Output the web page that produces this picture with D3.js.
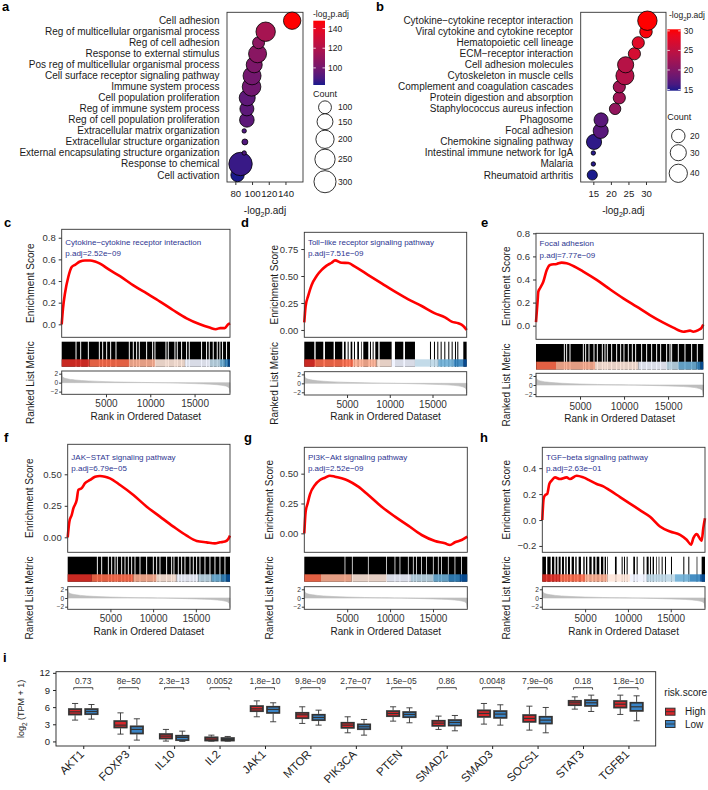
<!DOCTYPE html>
<html><head><meta charset="utf-8">
<script src="https://cdn.jsdelivr.net/npm/d3@7"></script>
<style>
body{margin:0;background:#fff}
svg{display:block}
text{font-family:"Liberation Sans",Arial,Helvetica,sans-serif}
</style></head>
<body><svg id="fig" width="708" height="790"></svg>
<script>
// ===================== DATA =====================
// Panel a (GO)
const goTerms = ["Cell adhesion","Reg of multicellular organismal process","Reg of cell adhesion","Response to external stimulus","Pos reg of multicellular organismal process","Cell surface receptor signaling pathway","Immune system process","Cell population proliferation","Reg of immune system process","Reg of cell population proliferation","Extracellular matrix organization","Extracellular structure organization","External encapsulating structure organization","Response to chemical","Cell activation"];
const goLog2p = [148, 116.3, 107.8, 106.6, 102.6, 100, 99.4, 94.2, 93.8, 93.8, 90.6, 91.4, 90.6, 86.2, 82.6];
const goCount = [180, 227, 88, 194, 152, 194, 208, 152, 117, 126, 40, 42, 40, 340, 107];
const goXTicks = [80, 100, 120, 140];
const goColorTicks = [100, 120, 140];
const goCountBreaks = [100, 150, 200, 250, 300];

// Panel b (KEGG)
const keggTerms = ["Cytokine\u2212cytokine receptor interaction","Viral cytokine and cytokine receptor","Hematopoietic cell lineage","ECM\u2212receptor interaction","Cell adhesion molecules","Cytoskeleton in muscle cells","Complement and coagulation cascades","Protein digestion and absorption","Staphylococcus aureus infection","Phagosome","Focal adhesion","Chemokine signaling pathway","Intestinal immune network for IgA","Malaria","Rheumatoid arthritis"];
const keggLog2p = [30.4, 30.0, 27.8, 26.7, 24.2, 24.0, 22.4, 22.4, 21.2, 17.2, 17.1, 15.2, 15.0, 15.0, 14.7];
const keggCount = [46, 17, 16, 16, 30, 39, 16, 16, 14, 22, 26, 26, 5, 5, 11];
const keggXTicks = [15, 20, 25, 30];
const keggColorTicks = [15, 20, 25, 30];
const keggCountBreaks = [20, 30, 40];

// GSEA panels c-h
const N = 19000;
const gseaNames = ["Cytokine\u2212cytokine receptor interaction","Toll\u2212like receptor signaling pathway","Focal adhesion","JAK\u2212STAT signaling pathway","PI3K\u2212Akt signaling pathway","TGF\u2212beta signaling pathway"];
const gseaPadj = ["2.52e\u221209","7.51e\u221209","7.77e\u221209","6.79e\u221205","2.52e\u221209","2.63e\u221201"];
const rankTicks = [5000, 10000, 15000];

const esC = [[0,0],[150,0.15],[376,0.29],[752,0.44],[1130,0.53],[1500,0.55],[2070,0.58],[2630,0.59],[3200,0.59],[3760,0.58],[4330,0.56],[5450,0.50],[6580,0.445],[8090,0.36],[9600,0.285],[11100,0.21],[12600,0.13],[14100,0.055],[15600,0.0],[16700,-0.03],[17400,-0.045],[17900,-0.035],[18400,-0.035],[18800,0.0],[19000,0.01]];
const esD = [[0,0.07],[150,0.216],[470,0.32],[860,0.417],[1440,0.5],[2030,0.556],[2610,0.596],[3200,0.623],[3590,0.645],[4370,0.623],[5150,0.62],[5930,0.586],[7490,0.509],[9050,0.432],[10610,0.355],[12170,0.284],[13730,0.222],[15290,0.154],[16460,0.117],[17240,0.077],[18020,0.062],[18600,0.037],[19000,0]];
const esE = [[0,0.03],[190,0.22],[265,0.295],[454,0.324],[830,0.38],[1210,0.48],[1590,0.526],[2350,0.535],[2910,0.546],[3480,0.54],[4240,0.517],[5370,0.468],[6890,0.396],[8400,0.315],[9910,0.237],[11430,0.165],[12940,0.092],[14460,0.026],[15590,-0.017],[16730,-0.052],[17490,-0.043],[17860,-0.052],[18430,-0.038],[18810,-0.017],[19000,0.01]];
const esF = [[0,0.0],[195,0.124],[468,0.177],[663,0.23],[1053,0.296],[1250,0.376],[1640,0.39],[2030,0.43],[2610,0.455],[3200,0.48],[3780,0.487],[4370,0.481],[4950,0.468],[6130,0.415],[7690,0.336],[9250,0.243],[10800,0.164],[12370,0.085],[13930,0.013],[15100,-0.029],[16270,-0.04],[17240,-0.048],[17830,-0.04],[18410,-0.034],[18800,-0.013],[19000,0.013]];
const esG = [[0,0.0],[155,0.18],[389,0.25],[660,0.327],[1243,0.405],[1826,0.447],[2409,0.466],[2990,0.483],[3575,0.475],[4350,0.461],[5130,0.441],[6290,0.391],[7460,0.321],[9010,0.223],[10570,0.14],[12120,0.064],[13680,-0.014],[15230,-0.064],[16400,-0.084],[16980,-0.098],[17560,-0.075],[18340,-0.056],[19000,-0.028]];
const esH = [[0,0.0],[156,0.165],[311,0.19],[584,0.203],[818,0.278],[1090,0.304],[1480,0.329],[2064,0.316],[2840,0.329],[3230,0.316],[4010,0.342],[4790,0.329],[5570,0.304],[6350,0.278],[7125,0.26],[7900,0.228],[9080,0.177],[10240,0.127],[11400,0.076],[12580,0.025],[13740,-0.05],[14920,-0.089],[16090,-0.114],[16860,-0.152],[17370,-0.19],[17640,-0.14],[18030,-0.109],[18420,-0.145],[18610,-0.16],[18800,-0.063],[19000,0.013]];

// white gaps (rank) between gene hits for the dense hit bars
const gapsC = [1617,2143,3008,4249,4625,5076,5527,6129,7633,8084,8460,8761,9588,10265,10528,11769,12032,12784,13047,13536,14100,14401,15792,16356,16657,17108,17559,17860,18161,18612];
const gapsE = [3217,3482,3861,5375,5640,6018,6586,6964,7532,7835,8100,8592,9160,9614,9992,10484,10939,11317,11998,12566,13134,13702,14156,14837,15216,15405,16162,16919,17676,18320];
const gapsF = [3471,3978,4758,5148,5538,5811,6318,6708,7098,7488,7878,8463,9243,10023,10413,10803,11583,12168,12441,12948,13338,13728,14313,14703,15093,15483,16068,16653,17238,17823,18408];
const gapsG = [4740,5594,7459,9596,10567,11150,12121,12704,13092,13675,14258,15035,15618,16006,16783,17560,18337];
// black hit runs (rank start, rank end) for the sparser bars
const hitsD = [[0,1170],[1326,2223],[2418,3432],[3588,4446],[4641,4836],[5070,5187],[5421,5616],[5811,5928],[6201,6396],[6630,6708],[6903,7488],[7683,7800],[7995,8112],[8307,8658],[8814,10218],[10608,11583],[11778,12948],[14703,14820],[15171,15288],[15561,15678],[15951,16068],[16380,16497],[16848,16965],[17238,17355],[17628,17745],[17901,18018],[18603,18993]];
const hitsH = [[0,428],[584,973],[1129,1401],[1557,1752],[1908,2141],[2297,2530],[2686,2842],[2998,3231],[3426,3698],[3854,4010],[4243,4516],[4788,4944],[5100,5256],[5489,5762],[5956,6190],[6346,6657],[6852,7124],[7280,7436],[7591,7669],[8486,8681],[9265,9382],[9538,9655],[9849,9966],[10628,10823],[11017,11134],[11796,11913],[12185,12418],[12574,12691],[12886,13042],[13275,13353],[13587,13665],[13937,14054],[14326,14443],[15027,15144],[16467,16584],[17051,17168],[18024,18102],[18608,19000]];

// colour-band bin edges (rank)
const bandC = [3121,7633,10528,13912,16732,17860,18424,18800];
const bandD = [1248,5733,8463,10218,12948,15678,17433,18603];
const bandE = [38,2271,6700,11620,14837,16162,18244,18698];
const bandF = [2808,7683,10413,12753,15288,16848,18018,18603];
const bandG = [39,1943,5517,9596,12432,15035,16783,18143];
const bandH = [2063,4983,7591,10238,12185,15494,17246,18414];
const bandColors = ["#DE2D26","#FB6A4A","#FCAE91","#FEE5D9","#EFF3FF","#BDD7E7","#6BAED6","#3182BD","#08519C"];

// ranked list metric (shared)
const metricRank = [0,100,500,1500,3000,5000,7000,9000,10500,12000,14000,16000,17500,18500,18900,19000];
const metricVal  = [2.2,1.3,0.9,0.6,0.38,0.22,0.12,0.05,0.0,-0.05,-0.15,-0.28,-0.45,-0.75,-1.2,-2.2];
const metricTicks = [2,0,-2];

// Panel i
const genes = ["AKT1","FOXP3","IL10","IL2","JAK1","MTOR","PIK3CA","PTEN","SMAD2","SMAD3","SOCS1","STAT3","TGFB1"];
const pLabels = ["0.73","8e\u221250","2.3e\u221213","0.0052","1.8e\u221210","9.8e\u221209","2.7e\u221207","1.5e\u221205","0.86","0.0048","7.9e\u221206","0.18","1.8e\u221210"];
// [lower whisker, Q1, median, Q3, upper whisker]
const highStats = [[3.73,4.72,5.18,5.65,6.64],[1.28,2.45,2.85,3.55,5.0],[0.06,0.52,0.93,1.28,2.1],[0,0.17,0.41,0.7,1.1],[4.31,5.3,5.7,6.17,7.1],[3.15,4.08,4.66,5.0,6.06],[1.51,2.39,2.85,3.26,4.31],[3.55,4.43,4.89,5.3,6.06],[2.1,2.74,3.2,3.61,4.43],[3.03,4.31,4.89,5.42,6.64],[1.98,3.44,4.02,4.6,6.17],[5.65,6.35,6.76,7.1,7.8],[4.72,5.94,6.52,7.05,8.1]];
const lowStats  = [[3.9,4.78,5.24,5.65,6.46],[0.23,1.4,2.1,2.62,3.96],[0,0.23,0.7,0.99,1.8],[0,0.17,0.35,0.58,0.87],[3.44,5.0,5.6,6.06,6.76],[2.85,3.73,4.19,4.66,5.47],[1.1,2.15,2.56,2.97,3.84],[3.26,4.25,4.72,5.13,5.88],[1.86,2.8,3.32,3.73,4.54],[2.85,4.14,4.78,5.3,6.41],[1.51,3.15,3.73,4.31,5.94],[5.24,6.23,6.76,7.22,8.1],[3.61,5.36,6.06,6.76,7.98]];
const iYTicks = [0,3,6,9,12];
const riskGroups = ["High","Low"];

// ===================== DRAWING =====================
const svg = d3.select("#fig");
const TXT = "#1a1a1a";
const LOWC = "#1a1a8c", HIGHC = "#ff0000";
const RISKCOL = {High:"#D8262B", Low:"#3A84C6"};

function plab(t, x, y){
  svg.append("text").attr("x",x).attr("y",y).attr("font-size",13).attr("font-weight","bold").attr("fill","#000").text(t);
}
function log2Label(g, x, y, fs, anchor){
  const t = g.append("text").attr("x",x).attr("y",y).attr("font-size",fs).attr("fill",TXT).attr("text-anchor",anchor);
  t.append("tspan").text("-log");
  t.append("tspan").attr("font-size",fs*0.7).attr("dy",fs*0.3).text("2");
  t.append("tspan").attr("dy",-fs*0.3).text("p.adj");
}

function dotPanel(o){
  const g = svg.append("g");
  const x = d3.scaleLinear().domain(o.xDom).range([o.bx0,o.bx1]);
  const y = d3.scalePoint().domain(o.terms).range([o.yFirst,o.yLast]);
  const cExt = d3.extent(o.vals);
  const col = d3.scaleLinear().domain(cExt).range([LOWC,HIGHC]).interpolate(d3.interpolateLab);
  const sExt = d3.extent(o.counts);
  const rad = c => o.rMin + (o.rMax-o.rMin)*Math.sqrt(Math.max(0,(c-sExt[0])/(sExt[1]-sExt[0])));
  g.append("rect").attr("x",o.bx0).attr("y",o.by0).attr("width",o.bx1-o.bx0).attr("height",o.by1-o.by0)
    .attr("fill","none").attr("stroke","#333").attr("stroke-width",0.9);
  const idx = d3.range(o.terms.length).reverse();
  g.selectAll("circle.pt").data(idx).join("circle").attr("class","pt")
    .attr("cx",i=>x(o.vals[i])).attr("cy",i=>y(o.terms[i])).attr("r",i=>rad(o.counts[i]))
    .attr("fill",i=>col(o.vals[i])).attr("stroke","#000").attr("stroke-width",0.8);
  g.selectAll("text.term").data(o.terms).join("text").attr("class","term")
    .attr("x",o.bx0-7.5).attr("y",d=>y(d)).attr("dy","0.35em").attr("text-anchor","end")
    .attr("font-size",10).attr("fill",TXT).text(d=>d);
  const ax = g.append("g").attr("transform",`translate(0,${o.by1})`)
    .call(d3.axisBottom(x).tickValues(o.xTicks).tickSize(3).tickSizeOuter(0).tickFormat(d3.format("d")));
  ax.select(".domain").remove();
  ax.selectAll("line").attr("stroke","#333");
  ax.selectAll("text").attr("font-size",9.6).attr("fill",TXT).attr("font-family",null).attr("dy","0.9em");
  log2Label(g, (o.bx0+o.bx1)/2, 213.5, 10, "middle");
  // colourbar
  const gid = "grad"+o.id;
  const grad = svg.append("defs").append("linearGradient").attr("id",gid).attr("x1",0).attr("x2",0).attr("y1",1).attr("y2",0);
  d3.range(0,1.0001,0.1).forEach(t=>grad.append("stop").attr("offset",t).attr("stop-color",col(cExt[0]+t*(cExt[1]-cExt[0]))));
  log2Label(g, o.cbTitleX, o.cbTitleY, 8.5, "start");
  g.append("rect").attr("x",o.cbx).attr("y",o.cby0).attr("width",o.cbw).attr("height",o.cby1-o.cby0).attr("fill",`url(#${gid})`);
  const cy = d3.scaleLinear().domain(cExt).range([o.cby1,o.cby0]);
  o.cTicks.forEach(v=>{
    g.append("line").attr("x1",o.cbx).attr("x2",o.cbx+2.5).attr("y1",cy(v)).attr("y2",cy(v)).attr("stroke","#fff").attr("stroke-width",0.8);
    g.append("line").attr("x1",o.cbx+o.cbw-2.5).attr("x2",o.cbx+o.cbw).attr("y1",cy(v)).attr("y2",cy(v)).attr("stroke","#fff").attr("stroke-width",0.8);
    g.append("text").attr("x",o.cbx+o.cbw+3).attr("y",cy(v)).attr("dy","0.35em").attr("font-size",8.5).attr("fill",TXT).text(v);
  });
  // size legend
  g.append("text").attr("x",o.sTitleX).attr("y",o.sTitleY).attr("font-size",9).attr("fill",TXT).text("Count");
  o.sBreaks.forEach((b,k)=>{
    g.append("circle").attr("cx",o.sCx).attr("cy",o.sCy[k]).attr("r",rad(b)).attr("fill","#fff").attr("stroke","#000").attr("stroke-width",0.8);
    g.append("text").attr("x",o.sLx).attr("y",o.sCy[k]).attr("dy","0.35em").attr("font-size",8.5).attr("fill",TXT).text(b);
  });
}

dotPanel({id:"a",terms:goTerms,vals:goLog2p,counts:goCount,xTicks:goXTicks,cTicks:goColorTicks,sBreaks:goCountBreaks,
  xDom:[70,161],bx0:227,bx1:303,by0:12.3,by1:182,yFirst:20.7,yLast:175,rMin:2.2,rMax:11.7,
  cbTitleX:313,cbTitleY:17,cbx:313.3,cbw:11.7,cby0:20.7,cby1:85,
  sTitleX:313,sTitleY:97,sCx:325,sCy:[107.3,121.7,139.3,159.3,181.7],sLx:338});
dotPanel({id:"b",terms:keggTerms,vals:keggLog2p,counts:keggCount,xTicks:keggXTicks,cTicks:keggColorTicks,sBreaks:keggCountBreaks,
  xDom:[11.4,35.7],bx0:580.7,bx1:666,by0:12.3,by1:182,yFirst:20.7,yLast:175,rMin:2.2,rMax:9.7,
  cbTitleX:669,cbTitleY:18,cbx:667.3,cbw:13.4,cby0:29.3,cby1:90.7,
  sTitleX:667.3,sTitleY:120,sCx:678.3,sCy:[136,152.7,173.3],sLx:690});
plab("a",2,11); plab("b",376,11);

function runsFromGaps(gaps, w){
  const runs=[]; let s=0;
  gaps.forEach(c=>{runs.push([s,c-w/2]); s=c+w/2;});
  runs.push([s,N]);
  return runs;
}

function gsea(L, k, es, hits, band){
  const g = svg.append("g");
  const x = d3.scaleLinear().domain([0,N]).range([L.x0,L.x1]);
  const y = d3.scaleLinear().domain(L.dom).range([L.esBot,L.esTop]);
  // ES panel
  g.append("path").datum(es).attr("d",d3.line().x(d=>x(d[0])).y(d=>y(d[1])).curve(d3.curveMonotoneX))
    .attr("fill","none").attr("stroke","#ff0000").attr("stroke-width",2.6).attr("stroke-linejoin","round");
  g.append("rect").attr("x",L.x0).attr("y",L.esTop).attr("width",L.x1-L.x0).attr("height",L.esBot-L.esTop)
    .attr("fill","none").attr("stroke","#333").attr("stroke-width",0.9);
  const ya = g.append("g").attr("transform",`translate(${L.x0},0)`)
    .call(d3.axisLeft(y).tickValues(L.ticks).tickFormat(d3.format(L.fmt)).tickSize(3).tickSizeOuter(0));
  ya.select(".domain").remove();
  ya.selectAll("line").attr("stroke","#333");
  ya.selectAll("text").attr("font-size",9.5).attr("fill","#333").attr("font-family",null);
  g.append("text").attr("transform",`translate(${L.ytX},${(L.esTop+L.esBot)/2}) rotate(-90)`).attr("text-anchor","middle")
    .attr("font-size",10).attr("fill",TXT).text("Enrichment Score");
  g.append("text").attr("x",L.x0+3.6).attr("y",L.annY).attr("font-size",8).attr("fill","#2d3590").text(gseaNames[k]);
  g.append("text").attr("x",L.x0+3.6).attr("y",L.annY+11.5).attr("font-size",8).attr("fill","#2d3590").text("p.adj="+gseaPadj[k]);
  // hits
  g.selectAll("rect.hit").data(hits).join("rect").attr("class","hit")
    .attr("x",d=>x(d[0])).attr("width",d=>Math.max(0.7,x(d[1])-x(d[0])))
    .attr("y",L.hitTop).attr("height",L.hitBot-L.hitTop).attr("fill","#000");
  const edges = [0,...band,N];
  g.selectAll("rect.band").data(bandColors).join("rect").attr("class","band")
    .attr("x",(c,i)=>x(edges[i])).attr("width",(c,i)=>x(edges[i+1])-x(edges[i]))
    .attr("y",L.bandTop).attr("height",L.hitBot-L.bandTop).attr("fill",c=>c).attr("opacity",0.9);
  // metric panel
  const my = d3.scaleLinear().domain([-2.6,2.6]).range([L.mBot,L.mTop]);
  g.append("path").datum(d3.range(metricRank.length))
    .attr("d",d3.area().x(i=>x(metricRank[i])).y0(my(0)).y1(i=>my(metricVal[i])).curve(d3.curveMonotoneX))
    .attr("fill","#bebebe").attr("stroke","#bebebe").attr("stroke-width",0.6);
  g.append("rect").attr("x",L.x0).attr("y",L.mTop).attr("width",L.x1-L.x0).attr("height",L.mBot-L.mTop)
    .attr("fill","none").attr("stroke","#333").attr("stroke-width",0.9);
  const ma = g.append("g").attr("transform",`translate(${L.x0},0)`)
    .call(d3.axisLeft(my).tickValues(metricTicks).tickSize(2.5).tickSizeOuter(0).tickFormat(d3.format("d")));
  ma.select(".domain").remove();
  ma.selectAll("line").attr("stroke","#333");
  ma.selectAll("text").attr("font-size",6.5).attr("fill","#333").attr("font-family",null).attr("x",-3.5);
  const xa = g.append("g").attr("transform",`translate(0,${L.mBot})`)
    .call(d3.axisBottom(x).tickValues(rankTicks).tickSize(3).tickSizeOuter(0).tickFormat(d3.format("d")));
  xa.select(".domain").remove();
  xa.selectAll("line").attr("stroke","#333");
  xa.selectAll("text").attr("font-size",10).attr("fill","#333").attr("font-family",null).attr("dy","0.7em");
  g.append("text").attr("x",(L.x0+L.x1)/2).attr("y",L.mBot+25.2).attr("text-anchor","middle").attr("font-size",10).attr("fill",TXT).text("Rank in Ordered Dataset");
  g.append("text").attr("transform",`translate(${L.ytX},${(L.mTop+L.mBot)/2}) rotate(-90)`).attr("text-anchor","middle")
    .attr("font-size",10).attr("fill",TXT).text("Ranked List Metric");
}

const LC = {x0:61.7,x1:230,esTop:229.3,esBot:337.3,dom:[-0.12,0.878],ticks:[0,0.2,0.4,0.6,0.8],fmt:".1f",hitTop:341.7,bandTop:359.3,hitBot:366.7,mTop:371,mBot:394.3,ytX:34,annY:244.5};
const LD = {x0:304.3,x1:466.7,esTop:232.3,esBot:337.3,dom:[-0.068,0.905],ticks:[0,0.25,0.5,0.75],fmt:".2f",hitTop:341.7,bandTop:359.3,hitBot:366.7,mTop:371.7,mBot:395,ytX:277.5,annY:244.5};
const LE = {x0:536,x1:703.3,esTop:233.3,esBot:339.3,dom:[-0.118,0.8],ticks:[0,0.2,0.4,0.6,0.8],fmt:".1f",hitTop:344,bandTop:361.7,hitBot:369.5,mTop:373.3,mBot:396.7,ytX:510,annY:246};
const LF = {x0:67.7,x1:230,esTop:444.3,esBot:552.3,dom:[-0.119,0.738],ticks:[0,0.25,0.5],fmt:".2f",hitTop:556.7,bandTop:574.3,hitBot:581.7,mTop:586.7,mBot:609.3,ytX:33,annY:459.5};
const LG = {x0:304.3,x1:467.3,esTop:447.3,esBot:552.3,dom:[-0.159,0.721],ticks:[0,0.25,0.5],fmt:".2f",hitTop:556.7,bandTop:574.3,hitBot:581.7,mTop:586.7,mBot:609.3,ytX:273,annY:459.5};
const LH = {x0:542.3,x1:705,esTop:447.3,esBot:552.3,dom:[-0.249,0.561],ticks:[-0.2,0,0.2,0.4],fmt:".1f",hitTop:556.7,bandTop:574.3,hitBot:581.7,mTop:586.7,mBot:609.3,ytX:510,annY:459.5};

gsea(LC,0,esC,runsFromGaps(gapsC,110),bandC);
gsea(LD,1,esD,hitsD,bandD);
gsea(LE,2,esE,runsFromGaps(gapsE,110),bandE);
gsea(LF,3,esF,runsFromGaps(gapsF,110),bandF);
gsea(LG,4,esG,runsFromGaps(gapsG,90),bandG);
gsea(LH,5,esH,hitsH,bandH);
plab("c",4,227); plab("d",241,227); plab("e",481,227);
plab("f",4,442); plab("g",244,442); plab("h",480,442);

// ---- Panel i
(function(){
  const g = svg.append("g");
  const bx0=56,bx1=655.7,by0=671.7,by1=746;
  const x = d3.scalePoint().domain(genes).range([bx0,bx1]).padding(0.6);
  const y = d3.scaleLinear().domain([-0.8,12.2]).range([by1,by0]);
  const st = x.step(), off = 0.18*st, bw = 0.27*st;
  g.append("rect").attr("x",bx0).attr("y",by0).attr("width",bx1-bx0).attr("height",by1-by0).attr("fill","none").attr("stroke","#222").attr("stroke-width",0.9);
  const ya = g.append("g").attr("transform",`translate(${bx0},0)`).call(d3.axisLeft(y).tickValues(iYTicks).tickSize(3).tickSizeOuter(0));
  ya.select(".domain").remove(); ya.selectAll("line").attr("stroke","#222");
  ya.selectAll("text").attr("font-size",9.5).attr("fill","#222").attr("font-family",null);
  const ylab = g.append("text").attr("transform",`translate(24,${(by0+by1)/2}) rotate(-90)`).attr("text-anchor","middle").attr("font-size",9).attr("fill",TXT);
  ylab.append("tspan").text("log");
  ylab.append("tspan").attr("font-size",6.5).attr("dy",2.5).text("2");
  ylab.append("tspan").attr("dy",-2.5).text(" (TPM + 1)");
  const xa = g.append("g").attr("transform",`translate(0,${by1})`).call(d3.axisBottom(x).tickSize(3).tickSizeOuter(0));
  xa.select(".domain").remove(); xa.selectAll("line").attr("stroke","#222");
  xa.selectAll("text").remove();
  g.selectAll("text.gene").data(genes).join("text").attr("class","gene")
    .attr("transform",d=>`translate(${x(d)+1.5},${by1+9}) rotate(-45)`).attr("text-anchor","end")
    .attr("font-size",11.5).attr("fill","#222").text(d=>d);
  const boxes = [];
  genes.forEach((gn,i)=>{
    boxes.push({grp:"High",cx:x(gn)-off,s:highStats[i]});
    boxes.push({grp:"Low",cx:x(gn)+off,s:lowStats[i]});
  });
  boxes.forEach(b=>{
    const s=b.s, cx=b.cx;
    g.append("line").attr("x1",cx).attr("x2",cx).attr("y1",y(s[0])).attr("y2",y(s[1])).attr("stroke","#333").attr("stroke-width",0.9);
    g.append("line").attr("x1",cx).attr("x2",cx).attr("y1",y(s[3])).attr("y2",y(s[4])).attr("stroke","#333").attr("stroke-width",0.9);
    [s[0],s[4]].forEach(v=>g.append("line").attr("x1",cx-bw/4).attr("x2",cx+bw/4).attr("y1",y(v)).attr("y2",y(v)).attr("stroke","#333").attr("stroke-width",0.9));
    g.append("rect").attr("x",cx-bw/2-0.6).attr("y",y(s[3])-0.6).attr("width",bw+1.2).attr("height",y(s[1])-y(s[3])+1.2)
      .attr("fill","none").attr("stroke","#9a9a9a").attr("stroke-width",0.8);
    g.append("rect").attr("x",cx-bw/2).attr("y",y(s[3])).attr("width",bw).attr("height",y(s[1])-y(s[3]))
      .attr("fill",RISKCOL[b.grp]).attr("stroke","#333").attr("stroke-width",1.6);
    g.append("line").attr("x1",cx-bw/2).attr("x2",cx+bw/2).attr("y1",y(s[2])).attr("y2",y(s[2])).attr("stroke","#333").attr("stroke-width",1.2);
  });
  // significance brackets
  genes.forEach((gn,i)=>{
    const xl = x(gn)-0.21*st, xr = x(gn)+0.21*st, yb = 687.7;
    g.append("path").attr("d",`M${xl},${yb+2}V${yb}H${xr}V${yb+2}`).attr("fill","none").attr("stroke","#333").attr("stroke-width",0.9);
    g.append("text").attr("x",x(gn)).attr("y",684).attr("text-anchor","middle").attr("font-size",8.5).attr("fill","#333").text(pLabels[i]);
  });
  // legend
  g.append("text").attr("x",664.3).attr("y",696).attr("font-size",10).attr("fill",TXT).text("risk.score");
  riskGroups.forEach((r,k)=>{
    const cy = 711.7+k*12.3;
    g.append("rect").attr("x",665.5).attr("y",cy-3.5).attr("width",9.5).attr("height",7).attr("fill",RISKCOL[r]).attr("stroke","#333").attr("stroke-width",1);
    g.append("line").attr("x1",665.5).attr("x2",675).attr("y1",cy).attr("y2",cy).attr("stroke","#333").attr("stroke-width",0.9);
    g.append("text").attr("x",685).attr("y",cy).attr("dy","0.35em").attr("font-size",10).attr("fill",TXT).text(r);
  });
})();
plab("i",3,662);
</script></body></html>
